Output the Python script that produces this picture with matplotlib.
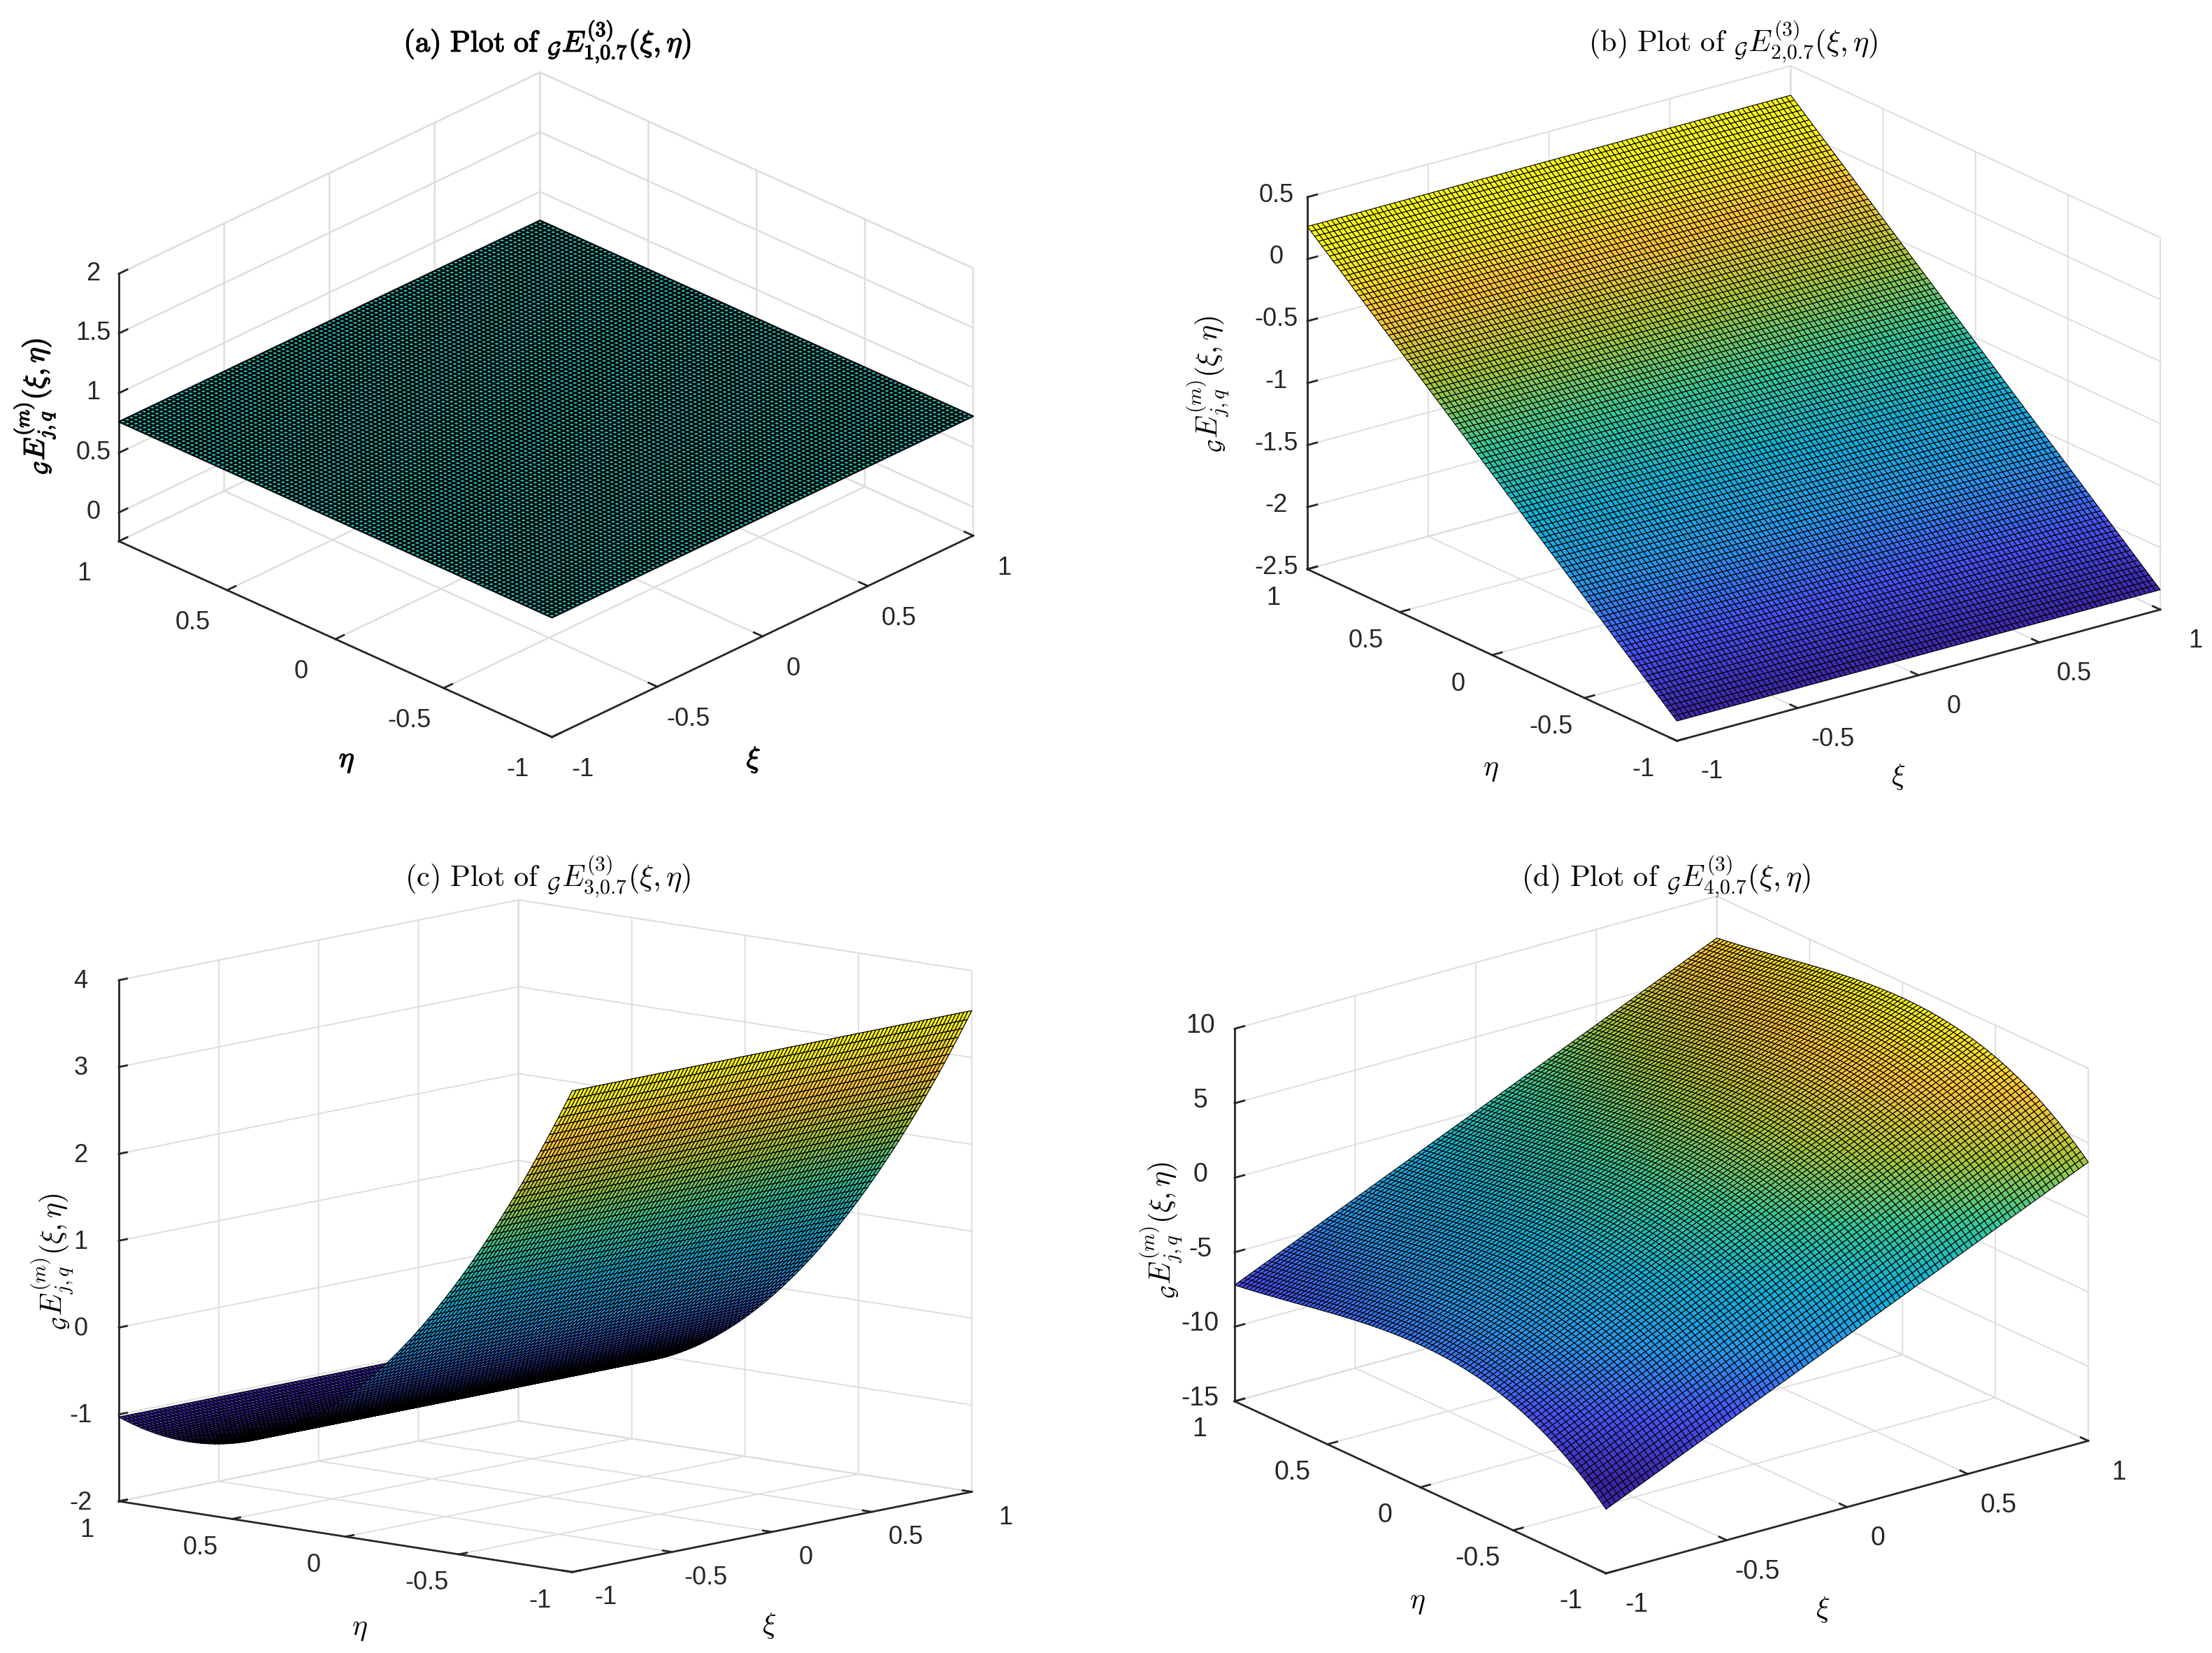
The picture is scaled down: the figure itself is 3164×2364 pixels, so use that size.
import matplotlib
matplotlib.use('Agg')
import matplotlib.pyplot as plt
import numpy as np
from matplotlib.colors import LinearSegmentedColormap
from matplotlib import patheffects as pe
from mpl_toolkits.mplot3d import proj3d

W, H, DPI = 3164, 2364, 200
plt.rcParams['font.family'] = ['Liberation Sans', 'DejaVu Sans']
plt.rcParams['mathtext.fontset'] = 'cm'

# ---- data -----------------------------------------------------------------
mesh_xi = np.linspace(-1, 1, 101)
mesh_eta = np.linspace(-1, 1, 101)

level_a = 0.76

profile_b = [-2.340,-2.314,-2.288,-2.262,-2.236,-2.210,-2.184,-2.158,-2.132,-2.106,-2.080,
 -2.054,-2.028,-2.002,-1.976,-1.950,-1.924,-1.898,-1.871,-1.845,-1.819,
 -1.793,-1.767,-1.741,-1.715,-1.689,-1.663,-1.637,-1.611,-1.585,-1.559,
 -1.533,-1.507,-1.481,-1.455,-1.429,-1.403,-1.377,-1.351,-1.325,-1.299,
 -1.273,-1.247,-1.220,-1.194,-1.168,-1.142,-1.116,-1.090,-1.064,-1.038,
 -1.012,-0.986,-0.960,-0.934,-0.908,-0.882,-0.856,-0.830,-0.804,-0.778,
 -0.752,-0.726,-0.700,-0.674,-0.648,-0.622,-0.596,-0.570,-0.544,-0.518,
 -0.492,-0.466,-0.440,-0.414,-0.388,-0.362,-0.336,-0.310,-0.284,-0.258,
 -0.232,-0.206,-0.180,-0.154,-0.128,-0.102,-0.076,-0.050,-0.023,0.003,
 0.029,0.055,0.081,0.107,0.133,0.159,0.185,0.211,0.237,0.263]

profile_c = [3.540,3.429,3.319,3.210,3.103,2.997,2.892,2.789,2.687,2.587,2.487,
 2.389,2.293,2.197,2.103,2.011,1.919,1.829,1.740,1.653,1.567,
 1.482,1.399,1.316,1.236,1.156,1.078,1.001,0.926,0.852,0.779,
 0.707,0.637,0.568,0.501,0.434,0.370,0.306,0.244,0.183,0.123,
 0.065,0.008,-0.048,-0.102,-0.155,-0.207,-0.257,-0.306,-0.354,-0.400,
 -0.445,-0.489,-0.531,-0.572,-0.612,-0.650,-0.688,-0.723,-0.758,-0.791,
 -0.823,-0.853,-0.882,-0.910,-0.937,-0.962,-0.986,-1.008,-1.029,-1.049,
 -1.068,-1.085,-1.101,-1.116,-1.129,-1.141,-1.151,-1.161,-1.169,-1.175,
 -1.181,-1.185,-1.187,-1.189,-1.189,-1.187,-1.185,-1.181,-1.175,-1.169,
 -1.161,-1.152,-1.141,-1.129,-1.116,-1.101,-1.086,-1.068,-1.050,-1.030]

profile_d = [-3.500,-3.257,-3.021,-2.792,-2.570,-2.354,-2.145,-1.943,-1.747,-1.558,-1.375,
 -1.198,-1.027,-0.862,-0.704,-0.551,-0.404,-0.263,-0.127,0.003,0.127,
 0.247,0.361,0.469,0.573,0.671,0.765,0.854,0.938,1.017,1.091,
 1.162,1.227,1.289,1.346,1.399,1.447,1.492,1.533,1.570,1.604,
 1.633,1.660,1.682,1.701,1.717,1.730,1.739,1.746,1.749,1.750,
 1.748,1.743,1.735,1.725,1.713,1.698,1.681,1.661,1.640,1.616,
 1.591,1.564,1.535,1.504,1.471,1.438,1.402,1.366,1.328,1.289,
 1.248,1.207,1.165,1.122,1.079,1.035,0.990,0.944,0.899,0.853,
 0.806,0.760,0.714,0.667,0.621,0.575,0.529,0.484,0.439,0.395,
 0.351,0.308,0.266,0.224,0.184,0.145,0.107,0.070,0.034,0.000]
xi_gain_d = 7.2   # half the rise of the surface from xi=-1 to xi=1

xy_ticks = [-1, -0.5, 0, 0.5, 1]
xy_tick_labels = ['-1', '-0.5', '0', '0.5', '1']
z_ticks_a = [0, 0.5, 1, 1.5, 2]
z_labels_a = ['0', '0.5', '1', '1.5', '2']
z_ticks_b = [-2.5, -2, -1.5, -1, -0.5, 0, 0.5]
z_labels_b = ['-2.5', '-2', '-1.5', '-1', '-0.5', '0', '0.5']
z_ticks_c = [-2, -1, 0, 1, 2, 3, 4]
z_labels_c = ['-2', '-1', '0', '1', '2', '3', '4']
z_ticks_d = [-15, -10, -5, 0, 5, 10]
z_labels_d = ['-15', '-10', '-5', '0', '5', '10']

titles = [r'$\mathrm{(a)\ Plot\ of\ }_{\mathcal{G}}E^{(3)}_{1{,}0.7}(\xi,\eta)$',
          r'$\mathrm{(b)\ Plot\ of\ }_{\mathcal{G}}E^{(3)}_{2{,}0.7}(\xi,\eta)$',
          r'$\mathrm{(c)\ Plot\ of\ }_{\mathcal{G}}E^{(3)}_{3{,}0.7}(\xi,\eta)$',
          r'$\mathrm{(d)\ Plot\ of\ }_{\mathcal{G}}E^{(3)}_{4{,}0.7}(\xi,\eta)$']
zlabel = r'$_{\mathcal{G}}E^{(m)}_{j,q}(\xi,\eta)$'

parula_colors = [(.2422,.1504,.6603),(.2810,.3228,.9579),(.1540,.5902,.9218),(.0689,.6948,.8394),
                 (.2161,.7843,.5923),(.6720,.7793,.2227),(.9970,.7659,.2199),(.9769,.9839,.0805)]
parula = LinearSegmentedColormap.from_list('parula_like', parula_colors, N=256)

XI, ETA = np.meshgrid(mesh_xi, mesh_eta)
Z_a = np.full(XI.shape, level_a)
Z_b = np.array(profile_b)[:, None] + 0 * XI
Z_c = np.array(profile_c)[:, None] + 0 * XI
Z_d = np.array(profile_d)[:, None] + xi_gain_d * XI

panels = [
    dict(Z=Z_a, zlim=(-0.24, 2), zt=z_ticks_a, zl=z_labels_a, azim=-135.8, el=27.7, c=.50,
         left=(170, 774), right=(1392, 767), title_xy=(783, 60), clim=(level_a-1, level_a+1), bold=True,
         pads=(5, 5, -1), lw=0.8, fs=13, glw=0.9, xoff=(10, 8), yoff=(-16, 8), zoff=(0, 18),
         xl=(1078, 1086), yl=(496, 1088), zlab=(49, 582)),
    dict(Z=Z_b, zlim=(-2.5, 0.5), zt=z_ticks_b, zl=z_labels_b, azim=-127.4, el=20.8, c=.654,
         left=(1870, 814), right=(3090, 873), title_xy=(2479, 60), clim=(-2.34, 0.15), bold=False,
         pads=(5, 5, 1), lw=0.4, fs=13, glw=0.7, xoff=(22, 14), yoff=(-12, 14), zoff=(0, 18),
         xl=(2715, 1111), yl=(2132, 1100), zlab=(1728, 550)),
    dict(Z=Z_c, zlim=(-2, 4), zt=z_ticks_c, zl=z_labels_c, azim=-138.6, el=10.2, c=.876,
         left=(170, 2147), right=(1390, 2135), title_xy=(783, 1254), clim=None, bold=False,
         pads=(1, 1, 2), lw=0.45, fs=13, glw=0.7, xoff=(26, 10), yoff=(-26, 6), zoff=(-8, 16),
         xl=(1100, 2325), yl=(514, 2329), zlab=(75, 1805)),
    dict(Z=Z_d, zlim=(-15, 10), zt=z_ticks_d, zl=z_labels_d, azim=-127.6, el=20.9, c=.655,
         left=(1766, 2004), right=(2987, 2061), title_xy=(2383, 1254), clim=(-9.5, 9.3), bold=False,
         pads=(5, 5, 2), lw=0.4, fs=13.5, glw=0.7, xoff=(16, 14), yoff=(-14, 16), zoff=(0, 20),
         xl=(2607, 2302), yl=(2027, 2291), zlab=(1661, 1760)),
]

fig = plt.figure(figsize=(W/DPI, H/DPI), dpi=DPI, facecolor='white')

def place(ax, p, zmin):
    S = 1000.0
    ax.set_position([0, 0, S/W, S/H])
    ax.apply_aspect()
    M = ax.get_proj()
    def px(x, y, z):
        xd, yd, _ = proj3d.proj_transform(x, y, z, M)
        return ax.transData.transform((xd, yd))
    pl = px(-1, 1, zmin)
    pr = px(1, -1, zmin)
    k = (p['right'][0] - p['left'][0]) / (pr[0] - pl[0])
    x0 = p['left'][0] - pl[0]*k
    y0 = (H - p['left'][1]) - pl[1]*k
    ax.set_position([x0/W, y0/H, S*k/W, S*k/H])
    ax.apply_aspect()

def pin_label(ax, label, xy):
    """Keep an axis label at a fixed spot of the figure (pixels from the top left)."""
    xd, yd = ax.transData.inverted().transform((xy[0], H - xy[1]))
    label.set_x(xd)
    label.set_y(yd)
    label.set_position = lambda _xy: None

def shift_tick_labels(ax, axis, off):
    inv = ax.transData.inverted()
    d = inv.transform(off) - inv.transform((0, 0))
    for tick in axis.get_major_ticks():
        orig = tick.label1.set_position
        tick.label1.set_position = (lambda o: lambda xy: o((xy[0] + d[0], xy[1] + d[1])))(orig)

for p, title in zip(panels, titles):
    ax = fig.add_subplot(projection='3d', proj_type='ortho')
    ax.patch.set_alpha(0)
    ax.view_init(elev=p['el'], azim=p['azim'])
    ax.set_box_aspect((1, 1, p['c']))
    ax.set_xlim(-1, 1, view_margin=0)
    ax.set_ylim(-1, 1, view_margin=0)
    ax.set_zlim(*p['zlim'], view_margin=0)
    if p['clim'] is not None:
        kw = dict(vmin=p['clim'][0], vmax=p['clim'][1])
    else:
        kw = dict(vmin=p['Z'].min(), vmax=p['Z'].max())
    ax.plot_surface(XI, ETA, p['Z'], cmap=parula, rcount=101, ccount=101,
                    edgecolor='k', linewidth=p['lw'], antialiased=True, shade=False, **kw)
    ax.set_xticks(xy_ticks, xy_tick_labels)
    ax.set_yticks(xy_ticks, xy_tick_labels)
    ax.set_zticks(p['zt'], p['zl'])
    for axis, pad in zip((ax.xaxis, ax.yaxis, ax.zaxis), p['pads']):
        axis.pane.set_facecolor((1, 1, 1, 0))
        axis.pane.set_edgecolor((.87, .87, .87))
        axis.pane.set_linewidth(p['glw'])
        axis.line.set_color((.15, .15, .15))
        axis.line.set_linewidth(1.0)
        axis._axinfo['grid'].update(color=(.87, .87, .87), linewidth=p['glw'])
        axis._axinfo['tick'].update(inward_factor=0.0, outward_factor=0.25,
                                    linewidth={True: 1.0, False: 0.5})
        axis.set_tick_params(labelsize=p['fs'], pad=pad, colors=(.15, .15, .15))
    for axis in (ax.xaxis, ax.yaxis, ax.zaxis):
        axis.set_rotate_label(False)
    ax.set_xlabel(r'$\xi$', fontsize=15)
    ax.set_ylabel(r'$\eta$', fontsize=15)
    ax.set_zlabel(zlabel, fontsize=15, rotation=90)
    tx, ty = p['title_xy']
    t = ax.set_title(title, fontsize=15.3, transform=fig.transFigure,
                     ha='center', va='center', color='k')
    t.set_x(tx/W)
    t.set_y(1 - ty/H)
    ax._autotitlepos = False
    if p['bold']:
        for o in (t, ax.xaxis.label, ax.yaxis.label, ax.zaxis.label):
            o.set_path_effects([pe.withStroke(linewidth=0.5, foreground='k')])
    place(ax, p, p['zlim'][0])
    pin_label(ax, ax.xaxis.label, p['xl'])
    pin_label(ax, ax.yaxis.label, p['yl'])
    pin_label(ax, ax.zaxis.label, p['zlab'])
    shift_tick_labels(ax, ax.xaxis, p['xoff'])
    shift_tick_labels(ax, ax.yaxis, p['yoff'])
    shift_tick_labels(ax, ax.zaxis, p['zoff'])

fig.savefig('out.png', dpi=DPI, facecolor='white')
